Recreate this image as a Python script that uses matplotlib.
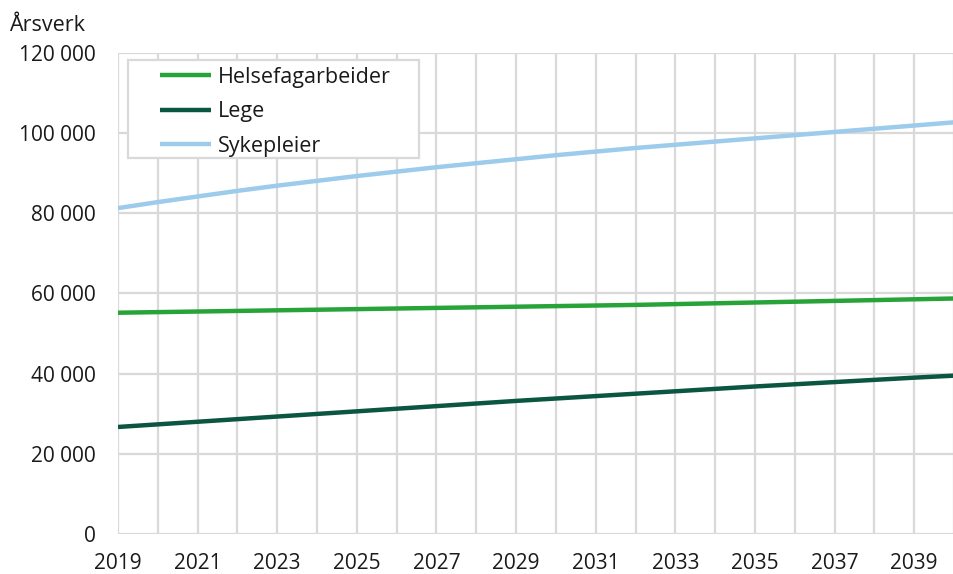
import matplotlib.pyplot as plt
from matplotlib.patches import Rectangle
from matplotlib.ticker import FuncFormatter

plt.rcParams['font.family'] = ['Open Sans', 'DejaVu Sans']

years = list(range(2019, 2041))
helsefag = [55200, 55350, 55500, 55650, 55800, 55950, 56100, 56250, 56400, 56550, 56700,
            56850, 57000, 57150, 57350, 57550, 57750, 57950, 58150, 58350, 58550, 58750]
lege = [26700, 27350, 28000, 28650, 29300, 29950, 30600, 31250, 31900, 32550, 33200,
        33800, 34400, 35000, 35600, 36200, 36800, 37350, 37900, 38450, 39000, 39500]
sykepleier = [81300, 82800, 84200, 85600, 86900, 88100, 89300, 90400, 91500, 92500, 93500,
              94500, 95400, 96300, 97100, 97900, 98700, 99500, 100300, 101100, 101900, 102700]
xtick_years = list(range(2019, 2040, 2))

fig = plt.figure(figsize=(9.54, 5.74), dpi=100)
ax = fig.add_axes([0.1237, 0.0697, 0.8763, 0.838])

ax.plot(years, helsefag, color='#27a338', lw=3.2, label='Helsefagarbeider', solid_capstyle='butt')
ax.plot(years, lege, color='#0b5641', lw=3.2, label='Lege', solid_capstyle='butt')
ax.plot(years, sykepleier, color='#9dcbec', lw=3.2, label='Sykepleier', solid_capstyle='butt')

ax.set_xlim(2019, 2039.9)
ax.set_ylim(0, 120000)
ax.set_xticks(years, minor=True)
ax.set_xticks(xtick_years)
ax.set_yticks(range(0, 120001, 20000))
ax.yaxis.set_major_formatter(FuncFormatter(lambda v, p: f'{int(v):,}'.replace(',', ' ')))
ax.grid(True, which='both', axis='x', color='#d9d9d9', lw=1.6)
ax.grid(True, which='major', axis='y', color='#d9d9d9', lw=1.6)
ax.set_axisbelow(True)
ax.tick_params(which='both', length=0, labelsize=15, colors='#1a1a1a')
ax.tick_params(axis='x', pad=14)
ax.tick_params(axis='y', pad=16)
for s in ax.spines.values():
    s.set_visible(False)

# legend box drawn separately (wider side padding than matplotlib allows)
box = Rectangle((0.0119, 0.7817), 0.3476, 0.2037, transform=ax.transAxes,
                facecolor='white', edgecolor='#d9d9d9', lw=1.6, zorder=4.5)
ax.add_patch(box)
leg = ax.legend(loc='upper left', bbox_to_anchor=(0.05, 0.971), borderaxespad=0,
                fontsize=15.5, frameon=False, borderpad=0,
                handlelength=2.4, handletextpad=0.28, labelspacing=0.62)
leg.set_zorder(5)
for t in leg.get_texts():
    t.set_color('#1a1a1a')

fig.text(0.01, 0.955, 'Årsverk', fontsize=15.5, va='center', ha='left', color='#1a1a1a')

fig.savefig('out.png', dpi=100)
